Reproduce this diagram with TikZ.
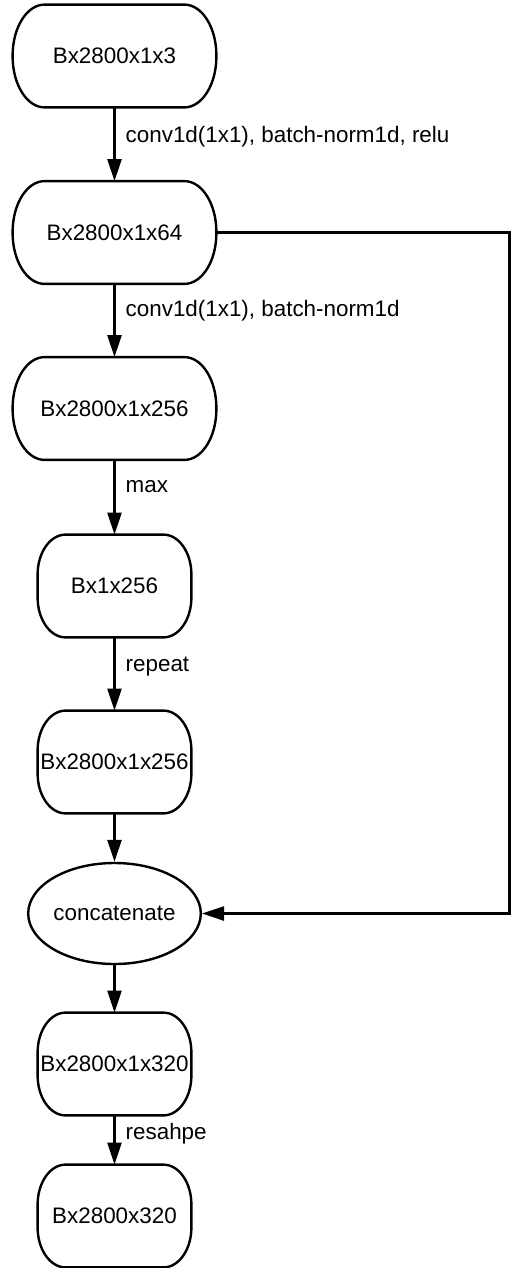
\documentclass[tikz,border=0pt]{standalone}
\usepackage{fontspec}
\setmainfont{Liberation Sans}
\usetikzlibrary{arrows.meta, shapes.geometric}

\tikzset{
    tensor/.style={minimum width=101.5pt, minimum height=51pt, inner sep=0pt},
    tensor small/.style={tensor, minimum width=76.5pt},
    opnode/.style={ellipse, draw, line width=1.2pt, minimum width=76.5pt, minimum height=50.5pt, inner sep=0pt},
    flow/.style={-{Triangle[length=11pt, width=7pt]}, line width=1.2pt},
    oplabel/.style={right, inner sep=0pt, xshift=5pt},
}
% box with elliptic corners: node, x radius, y radius
\newcommand{\pillborder}[3]{%
    \draw[line width=1.2pt] ([xshift=#2]#1.north west) -- ([xshift=-#2]#1.north east)
        arc[start angle=90, end angle=0, x radius=#2, y radius=#3]
        -- ([yshift=#3]#1.south east)
        arc[start angle=0, end angle=-90, x radius=#2, y radius=#3]
        -- ([xshift=#2]#1.south west)
        arc[start angle=270, end angle=180, x radius=#2, y radius=#3]
        -- ([yshift=-#3]#1.north west)
        arc[start angle=180, end angle=90, x radius=#2, y radius=#3] -- cycle;}

\begin{document}
\begin{tikzpicture}[x=0.5pt, y=-0.5pt, font=\fontsize{11.2}{13.4}\selectfont]
    \useasboundingbox (0,0) rectangle (511,1268);
    \node[tensor] (in) at (114.5,56) {Bx2800x1x3};
    \node[tensor] (f64) at (114.5,232.5) {Bx2800x1x64};
    \node[tensor] (f256) at (114.5,408.5) {Bx2800x1x256};
    \node[tensor small] (gmax) at (114.5,586) {Bx1x256};
    \node[tensor small] (rep) at (114.5,762) {Bx2800x1x256};
    \node[opnode] (cat) at (114.5,913.5) {concatenate};
    \node[tensor small] (f320) at (114.5,1064) {Bx2800x1x320};
    \node[tensor small] (out) at (114.5,1216) {Bx2800x320};
    \foreach \n in {in, f64, f256}
        \pillborder{\n}{16pt}{25.5pt};
    \foreach \n in {gmax, rep, f320, out}
        \pillborder{\n}{14pt}{20pt};
    \draw[flow] (in) -- (f64) node[oplabel, pos=0.4] {conv1d(1x1), batch-norm1d, relu};
    \draw[flow] (f64) -- (f256) node[oplabel, pos=0.37] {conv1d(1x1), batch-norm1d};
    \draw[flow] (f256) -- (gmax) node[oplabel, pos=0.36] {max};
    \draw[flow] (gmax) -- (rep) node[oplabel, pos=0.4] {repeat};
    \draw[flow] (rep) -- (cat);
    \draw[flow] (cat) -- (f320);
    \draw[flow] (f320) -- (out) node[oplabel, pos=0.38] {resahpe};
    % skip connection
    \coordinate (skip) at (509.5,232.5);
    \draw[flow] (f64.east) -- (skip) |- (cat.east);
\end{tikzpicture}
\end{document}
